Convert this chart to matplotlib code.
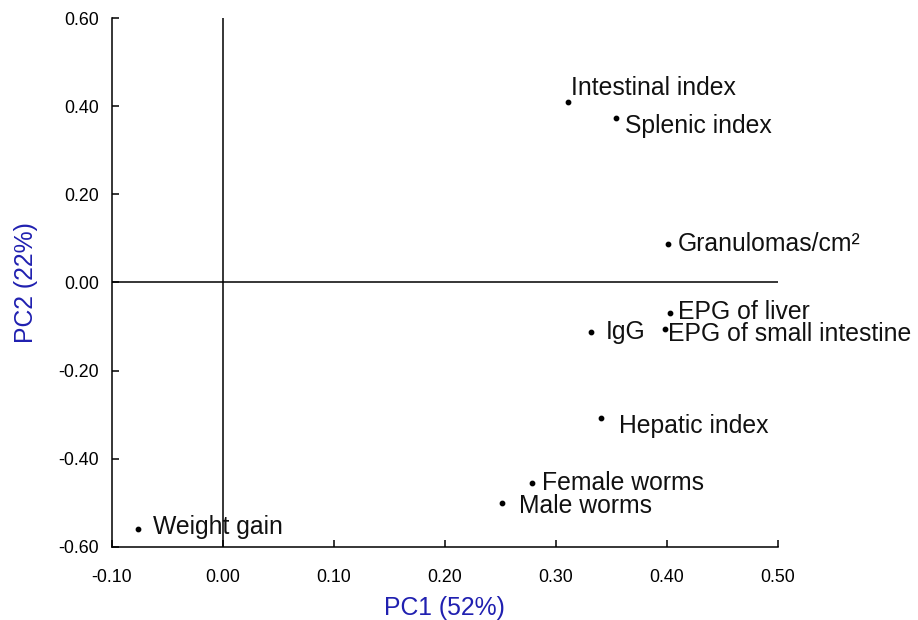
import numpy as np
import matplotlib.pyplot as plt
from matplotlib.ticker import FormatStrFormatter

plt.rcParams['font.family'] = ['Liberation Sans', 'DejaVu Sans']

# loadings on the first two principal components
variables = ["Intestinal index", "Splenic index", "Granulomas/cm²", "EPG of liver",
             "EPG of small intestine", "IgG", "Hepatic index", "Female worms",
             "Male worms", "Weight gain"]
pc1 = [0.311, 0.354, 0.401, 0.403, 0.398, 0.332, 0.341, 0.279, 0.252, -0.076]
pc2 = [0.409, 0.374, 0.087, -0.069, -0.106, -0.113, -0.308, -0.455, -0.500, -0.559]

# label offsets in pixels (dx, dy) so the names don't overlap
offsets = [(3, 14), (9, -8), (10, 0), (8, 1), (3, -5), (15, 0), (18, -8), (10, 0), (17, -3), (15, 2)]

fig = plt.figure(figsize=(9.18, 6.2), dpi=100)
ax = fig.add_axes([0.1217, 0.1183, 0.7255, 0.8522])

ax.axvline(0, color='black', lw=1.1, zorder=1)
ax.axhline(0, color='black', lw=1.1, zorder=1)
ax.scatter(pc1, pc2, s=10, color='black', zorder=3)

for name, x, y, (dx, dy) in zip(variables, pc1, pc2, offsets):
    ax.annotate(name, (x, y), xytext=(dx, dy), textcoords='offset pixels',
                ha='left', va='center', fontsize=17.8, color='#111111')

ax.set_xlim(-0.1, 0.5)
ax.set_ylim(-0.6, 0.6)
ax.set_xticks(np.arange(-0.1, 0.51, 0.1))
ax.set_yticks(np.arange(-0.6, 0.61, 0.2))
ax.xaxis.set_major_formatter(FormatStrFormatter('%.2f'))
ax.yaxis.set_major_formatter(FormatStrFormatter('%.2f'))
ax.tick_params(direction='in', length=5, width=1.1, labelsize=12.8)
ax.tick_params(axis='x', pad=16)
ax.tick_params(axis='y', pad=9)

for side in ['top', 'right']:
    ax.spines[side].set_visible(False)
for side in ['left', 'bottom']:
    ax.spines[side].set_linewidth(1.1)

ax.set_xlabel("PC1 (52%)", fontsize=17.8, color='#2020b0', labelpad=7)
ax.set_ylabel("PC2 (22%)", fontsize=17.8, color='#2020b0', labelpad=15)

fig.savefig("out.png", dpi=100)
